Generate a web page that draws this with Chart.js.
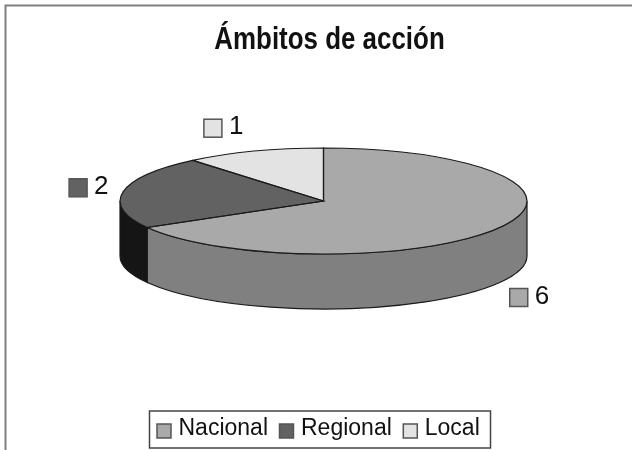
<!DOCTYPE html>
<html>
<head>
<meta charset="utf-8">
<style>
  html, body { margin: 0; padding: 0; background: #fff; }
  #wrap { width: 632px; height: 450px; }
</style>
<script src="https://cdn.jsdelivr.net/npm/chart.js@4"></script>
</head>
<body>
<div id="wrap"><canvas id="myChart" width="632" height="450"></canvas></div>
<script>
const chartTitle = 'Ámbitos de acción';
const categories = ['Nacional', 'Regional', 'Local'];
const values = [6, 2, 1];
const topColors = ['#a9a9a9', '#626262', '#e3e3e3'];
const sideColors = ['#808080', '#151515', '#b0b0b0'];

// how the flat pie is laid down as a tilted disc
const disc = { cx: 323.5, cy: 201, rx: 203.5, ry: 53, depth: 55 };
// data label position relative to the slice's rim midpoint
const labelOffsets = [[10, 70], [-54, -4], [-50, -23]];
const fontFamily = '"Liberation Sans", Arial, sans-serif';

const pie3d = {
    id: 'pie3d',
    beforeDraw(chart) {
        // the frame only has top and left edges in the reference
        const ctx = chart.ctx;
        ctx.save();
        ctx.fillStyle = '#fff';
        ctx.fillRect(0, 0, chart.width, chart.height);
        ctx.strokeStyle = '#808080';
        ctx.lineWidth = 2;
        ctx.beginPath();
        ctx.moveTo(5.5, chart.height);
        ctx.lineTo(5.5, 5.5);
        ctx.lineTo(chart.width, 5.5);
        ctx.stroke();
        ctx.restore();
    },
    beforeDatasetsDraw(chart) {
        const ctx = chart.ctx;
        const arcs = chart.getDatasetMeta(0).data;
        // side wall, only the front half of the rim can be seen
        arcs.forEach((arc, i) => {
            const a = Math.max(arc.startAngle, 0);
            const b = Math.min(arc.endAngle, Math.PI);
            if (b <= a) return;
            ctx.beginPath();
            ctx.ellipse(disc.cx, disc.cy, disc.rx, disc.ry, 0, a, b);
            ctx.ellipse(disc.cx, disc.cy + disc.depth, disc.rx, disc.ry, 0, b, a, true);
            ctx.closePath();
            ctx.fillStyle = sideColors[i];
            ctx.fill();
            ctx.strokeStyle = '#1a1a1a';
            ctx.lineWidth = 1.2;
            ctx.stroke();
        });
        // squash the real arcs onto the disc
        const first = arcs[0];
        ctx.save();
        ctx.translate(disc.cx, disc.cy);
        ctx.scale(disc.rx / first.outerRadius, disc.ry / first.outerRadius);
        ctx.translate(-first.x, -first.y);
    },
    afterDatasetsDraw(chart) {
        const ctx = chart.ctx;
        ctx.restore();
        const arcs = chart.getDatasetMeta(0).data;
        // outlines here so the line width is not squashed too
        arcs.forEach(arc => {
            ctx.beginPath();
            ctx.moveTo(disc.cx, disc.cy);
            ctx.ellipse(disc.cx, disc.cy, disc.rx, disc.ry, 0, arc.startAngle, arc.endAngle);
            ctx.closePath();
            ctx.strokeStyle = '#1a1a1a';
            ctx.lineWidth = 1.2;
            ctx.stroke();
        });
        // value labels with their little colour keys
        ctx.font = '26px ' + fontFamily;
        ctx.textBaseline = 'middle';
        ctx.textAlign = 'left';
        arcs.forEach((arc, i) => {
            const mid = (arc.startAngle + arc.endAngle) / 2;
            const x = disc.cx + disc.rx * Math.cos(mid) + labelOffsets[i][0];
            const y = disc.cy + disc.ry * Math.sin(mid) + labelOffsets[i][1];
            ctx.fillStyle = topColors[i];
            ctx.fillRect(x, y - 9, 18, 18);
            ctx.strokeStyle = '#555';
            ctx.lineWidth = 1.5;
            ctx.strokeRect(x, y - 9, 18, 18);
            ctx.fillStyle = '#111';
            ctx.fillText(String(values[i]), x + 25, y - 1);
        });
    },
    afterDraw(chart) {
        const ctx = chart.ctx;
        // title, Arial Narrow look: no narrow font here so squeeze it
        ctx.save();
        ctx.translate(329.5, 49);
        ctx.scale(0.81, 1);
        ctx.font = 'bold 32px ' + fontFamily;
        ctx.textAlign = 'center';
        ctx.textBaseline = 'alphabetic';
        ctx.fillStyle = '#111';
        ctx.fillText(chartTitle, 0, 0);
        ctx.restore();

        // legend with box, swatches sit lower than the text in the reference
        ctx.strokeStyle = '#444';
        ctx.lineWidth = 1.5;
        ctx.strokeRect(149.5, 411, 341, 37);
        ctx.font = '23px ' + fontFamily;
        ctx.textAlign = 'left';
        ctx.textBaseline = 'alphabetic';
        let x = 157;
        categories.forEach((c, i) => {
            ctx.fillStyle = topColors[i];
            ctx.fillRect(x, 424, 14, 14);
            ctx.strokeStyle = '#555';
            ctx.strokeRect(x, 424, 14, 14);
            ctx.fillStyle = '#111';
            ctx.fillText(c, x + 21.5, 435);
            x += 21.5 + ctx.measureText(c).width + 11.5;
        });
    }
};

new Chart(document.getElementById('myChart').getContext('2d'), {
    type: 'pie',
    data: {
        labels: categories,
        datasets: [{
            data: values,
            backgroundColor: topColors,
            borderWidth: 0,
            clip: false
        }]
    },
    options: {
        responsive: false,
        animation: false,
        events: [],
        plugins: {
            tooltip: { enabled: false },
            title: { display: false },
            legend: { display: false }
        }
    },
    plugins: [pie3d]
});
</script>
</body>
</html>
